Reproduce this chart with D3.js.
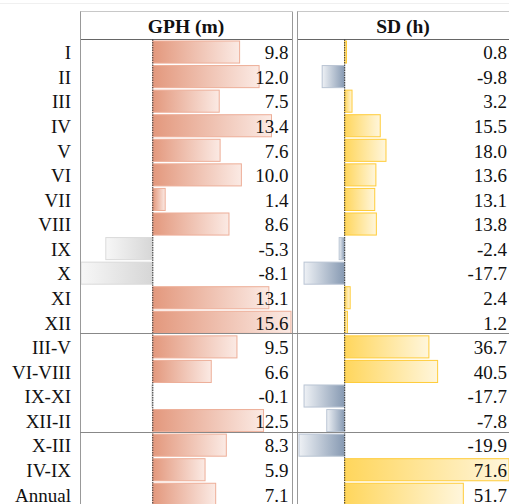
<!DOCTYPE html>
<html><head><meta charset="utf-8">
<script src="https://cdn.jsdelivr.net/npm/d3@7"></script>
<style>body{margin:0;background:#fff}svg{display:block}</style>
</head><body>
<script>
const labels = ["I","II","III","IV","V","VI","VII","VIII","IX","X","XI","XII","III-V","VI-VIII","IX-XI","XII-II","X-III","IV-IX","Annual"];
const gph = [9.8,12.0,7.5,13.4,7.6,10.0,1.4,8.6,-5.3,-8.1,13.1,15.6,9.5,6.6,-0.1,12.5,8.3,5.9,7.1];
const sd = [0.8,-9.8,3.2,15.5,18.0,13.6,13.1,13.8,-2.4,-17.7,2.4,1.2,36.7,40.5,-17.7,-7.8,-19.9,71.6,51.7];
const headers = ["GPH (m)","SD (h)"];
const separatorsAfter = [11, 15];

const W = 509, H = 504;
const font = "'Liberation Serif','Times New Roman',serif";
const svg = d3.select("body").append("svg").attr("width", W).attr("height", H);
const defs = svg.append("defs");

const top0 = 39.5, rowH = 24.57;
const y = d3.scaleBand().domain(d3.range(labels.length)).range([top0, top0 + rowH*labels.length]).padding(0);

const panels = [
  {name: headers[0], data: gph, left: 80, right: 292, x: d3.scaleLinear().domain([d3.min(gph), d3.max(gph)]).range([81, 291]),
   pos: ["#E3987D","#FBEAE4"], posStroke: "#EDAE98", neg: ["#D6D6D6","#F7F7F7"], negStroke: "#DADADA", valX: 288.5},
  {name: headers[1], data: sd, left: 297, right: 512, x: d3.scaleLinear().domain([d3.min(sd), d3.max(sd)]).range([299, 509]),
   pos: ["#FFD65C","#FFF6DC"], posStroke: "#FFCC3A", neg: ["#8699B2","#EEF1F5"], negStroke: "#B9C4D3", valX: 507}
];

panels.forEach((p, pi) => {
  const gp = defs.append("linearGradient").attr("id", "gp"+pi).attr("x1",0).attr("x2",1).attr("y1",0).attr("y2",0);
  gp.append("stop").attr("offset",0).attr("stop-color",p.pos[0]);
  gp.append("stop").attr("offset",1).attr("stop-color",p.pos[1]);
  const gn = defs.append("linearGradient").attr("id", "gn"+pi).attr("x1",1).attr("x2",0).attr("y1",0).attr("y2",0);
  gn.append("stop").attr("offset",0).attr("stop-color",p.neg[0]);
  gn.append("stop").attr("offset",1).attr("stop-color",p.neg[1]);
});

// faint top line
svg.append("line").attr("x1",0).attr("x2",W).attr("y1",3.5).attr("y2",3.5).attr("stroke","#f0f0f0");

panels.forEach((p, pi) => {
  const g = svg.append("g");
  // header borders
  g.append("line").attr("x1",p.left).attr("x2",p.right).attr("y1",11.5).attr("y2",11.5).attr("stroke","#c8c8c8");
  g.append("line").attr("x1",p.left).attr("x2",p.right).attr("y1",top0).attr("y2",top0).attr("stroke","#666");
  g.append("text").attr("x",(p.left+Math.min(p.right,509))/2).attr("y",33).attr("text-anchor","middle")
    .attr("font-family",font).attr("font-weight","bold").attr("font-size",19.5).attr("fill","#111").text(p.name);
  // bars
  g.selectAll("rect.bar").data(p.data).join("rect").attr("class","bar")
    .attr("x", d => d >= 0 ? p.x(0) : p.x(d))
    .attr("width", d => Math.max(Math.abs(p.x(d) - p.x(0)), 0.6))
    .attr("y", (d,i) => y(i) + 1.5)
    .attr("height", y.bandwidth() - 2.5)
    .attr("fill", d => d >= 0 ? `url(#gp${pi})` : `url(#gn${pi})`)
    .attr("stroke", d => d >= 0 ? p.posStroke : p.negStroke)
    .attr("stroke-width", 1);
  // zero axis
  g.append("line").attr("x1",p.x(0)).attr("x2",p.x(0)).attr("y1",top0).attr("y2",H)
    .attr("stroke","#333").attr("stroke-width",1).attr("stroke-dasharray","1.5,1");
  // values
  g.selectAll("text.val").data(p.data).join("text").attr("class","val")
    .attr("x", p.valX).attr("y", (d,i) => y(i) + y.bandwidth()/2 + 7.5)
    .attr("text-anchor","end").attr("font-family",font).attr("font-size",19).attr("fill","#111")
    .text(d => d.toFixed(1));
});

// vertical borders
[80, 292, 297].forEach(x => {
  svg.append("line").attr("x1",x+0.5).attr("x2",x+0.5).attr("y1",11.5).attr("y2",H).attr("stroke","#999");
});

// separators
separatorsAfter.forEach(i => {
  const yy = Math.round(y(i) + y.bandwidth()) - 0.5;
  svg.append("line").attr("x1",80).attr("x2",W).attr("y1",yy).attr("y2",yy).attr("stroke","#888");
});

// row labels
svg.selectAll("text.lab").data(labels).join("text").attr("class","lab")
  .attr("x", 71).attr("y", (d,i) => y(i) + y.bandwidth()/2 + 7.5)
  .attr("text-anchor","end").attr("font-family",font).attr("font-size",19).attr("fill","#111").text(d => d);
</script>
</body></html>
